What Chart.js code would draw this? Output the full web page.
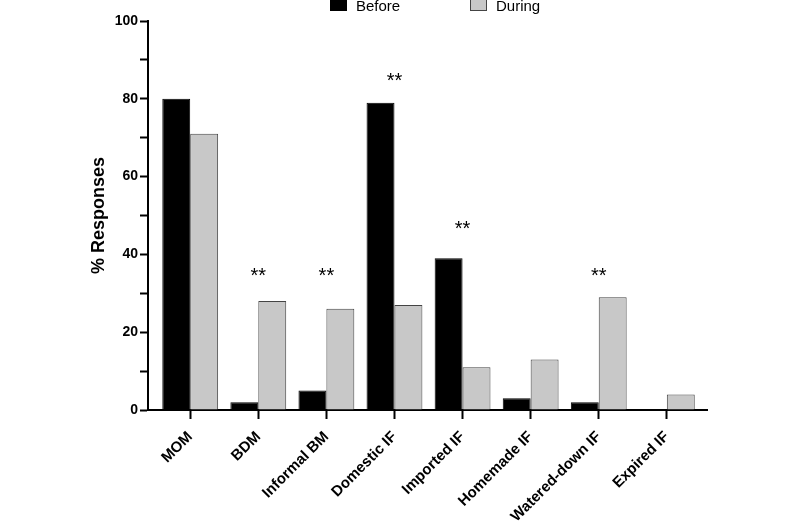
<!DOCTYPE html>
<html lang="en">
<head>
    <meta charset="UTF-8">
    <title>% Responses Before / During</title>
    <script src="https://cdn.jsdelivr.net/npm/chart.js"></script>
    <style>
        html, body { margin: 0; padding: 0; background: #fff; }
        #wrap { width: 800px; height: 530px; }
    </style>
</head>
<body>
    <div id="wrap"><canvas id="grafico" width="800" height="530"></canvas></div>

    <script>
        // data
        const categorias = ['MOM', 'BDM', 'Informal BM', 'Domestic IF', 'Imported IF', 'Homemade IF', 'Watered-down IF', 'Expired IF'];
        const antes = [80, 2, 5, 79, 39, 3, 2, 0];
        const durante = [71, 28, 26, 27, 11, 13, 29, 4];
        const marcas = ['', '**', '**', '**', '**', '', '**', ''];
        const alturaMarcas = [null, 33, 33, 83, 45, null, 33, null];
        const ticksY = [0, 20, 40, 60, 80, 100];

        const fonte = "'Liberation Sans', Arial, Helvetica, sans-serif";

        // legend drawn by hand to sit at the very top like the original
        const legendaManual = {
            id: 'legendaManual',
            afterDraw(chart) {
                const ctx = chart.ctx;
                const posicoes = [330, 470];
                ctx.save();
                ctx.font = '15px ' + fonte;
                ctx.textBaseline = 'alphabetic';
                ctx.textAlign = 'left';
                chart.data.datasets.forEach((ds, i) => {
                    const x = posicoes[i];
                    ctx.fillStyle = ds.backgroundColor;
                    ctx.fillRect(x, -1, 17, 12);
                    ctx.strokeStyle = ds.borderColor;
                    ctx.lineWidth = 1;
                    ctx.strokeRect(x + 0.5, -0.5, 16, 11);
                    ctx.fillStyle = '#000';
                    ctx.fillText(ds.label, x + 26, 11);
                });
                ctx.restore();
            }
        };

        // significance stars above the groups
        const estrelas = {
            id: 'estrelas',
            afterDatasetsDraw(chart) {
                const ctx = chart.ctx;
                const sx = chart.scales.x;
                const sy = chart.scales.y;
                ctx.save();
                ctx.font = '20px ' + fonte;
                ctx.fillStyle = '#000';
                ctx.textAlign = 'center';
                ctx.textBaseline = 'alphabetic';
                marcas.forEach((m, i) => {
                    if (!m) return;
                    ctx.fillText(m, sx.getPixelForValue(i), sy.getPixelForValue(alturaMarcas[i]));
                });
                ctx.restore();
            }
        };

        new Chart(document.getElementById('grafico'), {
            type: 'bar',
            data: {
                datasets: [
                    {
                        label: 'Before',
                        data: antes.map((v, i) => ({ x: i, y: v })),
                        backgroundColor: '#000000',
                        borderColor: '#000000',
                        borderWidth: 1,
                        categoryPercentage: 0.82,
                        barPercentage: 1.0
                    },
                    {
                        label: 'During',
                        data: durante.map((v, i) => ({ x: i, y: v })),
                        backgroundColor: '#c8c8c8',
                        borderColor: '#444444',
                        borderWidth: 1,
                        categoryPercentage: 0.82,
                        barPercentage: 1.0
                    }
                ]
            },
            options: {
                responsive: false,
                animation: false,
                layout: { padding: { left: 80, right: 93, top: 21, bottom: 0 } },
                plugins: {
                    legend: { display: false },
                    tooltip: { enabled: false }
                },
                scales: {
                    x: {
                        type: 'linear',
                        min: -0.62,
                        max: 7.59,
                        offset: false,
                        grid: {
                            display: true,
                            offset: false,
                            drawOnChartArea: false,
                            drawTicks: true,
                            tickLength: 9,
                            tickWidth: 2,
                            tickColor: '#000'
                        },
                        border: { display: true, color: '#000', width: 2 },
                        ticks: {
                            color: '#000',
                            font: { family: fonte, size: 15, weight: 'bold' },
                            maxRotation: 45,
                            minRotation: 45,
                            autoSkip: false,
                            padding: 9,
                            callback: (v) => categorias[v] ?? ''
                        },
                        afterBuildTicks(scale) {
                            scale.ticks = categorias.map((_, i) => ({ value: i }));
                        },
                        afterFit(scale) { scale.height = 120; }
                    },
                    y: {
                        min: 0,
                        max: 100,
                        grid: {
                            display: true,
                            drawOnChartArea: false,
                            drawTicks: true,
                            tickLength: 8,
                            tickWidth: 2,
                            tickColor: '#000'
                        },
                        border: { display: true, color: '#000', width: 2 },
                        ticks: {
                            stepSize: 10,
                            color: '#000',
                            font: { family: fonte, size: 14, weight: 'bold' },
                            padding: 2,
                            callback: (v) => ticksY.includes(v) ? v : ''
                        },
                        title: {
                            display: true,
                            text: '% Responses',
                            color: '#000',
                            font: { family: fonte, size: 18, weight: 'bold' },
                            padding: { top: 8, bottom: 0 }
                        },
                        afterFit(scale) { scale.width = 68; }
                    }
                }
            },
            plugins: [legendaManual, estrelas]
        });
    </script>
</body>
</html>
